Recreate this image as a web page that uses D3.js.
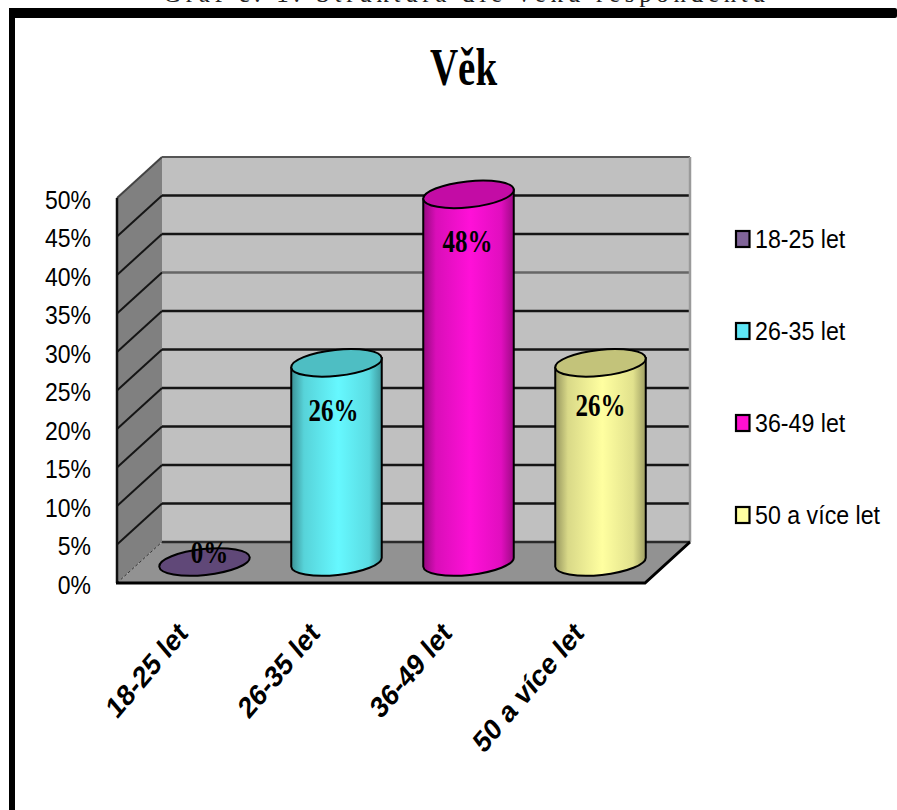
<!DOCTYPE html>
<html lang="cs">
<head>
<meta charset="utf-8">
<title>Věk</title>
<script src="https://cdn.jsdelivr.net/npm/d3@7/dist/d3.min.js"></script>
<style>
  html, body { margin: 0; padding: 0; background: #fff; }
  svg { display: block; }
  .sans { font-family: "Liberation Sans", Arial, sans-serif; }
  .serif { font-family: "Liberation Serif", "Times New Roman", serif; }
</style>
</head>
<body>
<svg id="chart" width="897" height="810"></svg>
<script>
// Chart data
const categories = ["18-25 let", "26-35 let", "36-49 let", "50 a více let"];
const shares = [0, 26, 48, 26];
const seriesColors = ["#7d6296", "#66f8ff", "#ff10d8", "#ffffa0"];
const legendColors = ["#806498", "#5ee6f6", "#ff10d0", "#ffffa0"];
const tickValues = [0, 5, 10, 15, 20, 25, 30, 35, 40, 45, 50];
const heading = "Věk";
const caption = "Graf č. 1: Struktura dle věku respondentů";

const svg = d3.select("#chart");
const defs = svg.append("defs");

// Box projection: front plane of the plot and the depth offset to the back wall
const frontLeft = 117, frontRight = 645, frontBase = 583, frontTop = 198;
const depthX = 45, depthY = -41;

const x = d3.scaleBand().domain(categories).range([frontLeft, frontRight]);
const y = d3.scaleLinear().domain([0, 50]).range([frontBase, frontTop]);
// Cylinders stand half way into the box
const barY = d3.scaleLinear().domain([0, 50]).range([562, 179]);
const barCenter = c => x(c) + x.bandwidth() / 2 + 21.5;

// Page frame and the clipped caption above it
svg.append("text").attr("class", "serif")
  .attr("x", 163).attr("y", 1.5)
  .attr("textLength", 602).attr("lengthAdjust", "spacing")
  .attr("font-size", 25).attr("fill", "#222")
  .text(caption);
svg.append("rect").attr("x", 9).attr("y", 8).attr("width", 888).attr("height", 10).attr("rx", 2).attr("fill", "#000");
svg.append("rect").attr("x", 9).attr("y", 8).attr("width", 6).attr("height", 802).attr("fill", "#000");

// Title
svg.append("text").attr("class", "serif")
  .attr("transform", "translate(463.5,85) scale(1,1.36)")
  .attr("text-anchor", "middle").attr("font-size", 39).attr("font-weight", "bold")
  .text(heading);

// Box walls
const poly = pts => d3.line()(pts) + "Z";
const walls = svg.append("g");
walls.append("path") // back wall
  .attr("d", poly([[frontLeft + depthX, y(50) + depthY], [frontRight + depthX, y(50) + depthY],
                   [frontRight + depthX, frontBase + depthY], [frontLeft + depthX, frontBase + depthY]]))
  .attr("fill", "#c0c0c0");
walls.append("path") // left wall
  .attr("d", poly([[frontLeft, y(50)], [frontLeft + depthX, y(50) + depthY],
                   [frontLeft + depthX, frontBase + depthY], [frontLeft, frontBase]]))
  .attr("fill", "#808080");
walls.append("path") // floor
  .attr("d", poly([[frontLeft, frontBase], [frontLeft + depthX, frontBase + depthY],
                   [frontRight + depthX, frontBase + depthY], [frontRight, frontBase]]))
  .attr("fill", "#929292");

// Gridlines wrap from the left wall onto the back wall
const gridValues = tickValues.filter(v => v > 0);
walls.append("g").selectAll("path").data(gridValues).join("path")
  .attr("d", v => d3.line()([[frontLeft, y(v)], [frontLeft + depthX, y(v) + depthY]]))
  .attr("fill", "none")
  .attr("stroke", v => v === 50 ? "#444" : "#151515")
  .attr("stroke-width", 2);
walls.append("g").selectAll("path").data(gridValues).join("path")
  .attr("d", v => d3.line()([[frontLeft + depthX, y(v) + depthY], [frontRight + depthX, y(v) + depthY]]))
  .attr("fill", "none")
  .attr("stroke", v => v === 35 ? "#666" : v === 50 ? "#555" : "#151515")
  .attr("stroke-width", v => v === 50 ? 2 : 2.6);

// Box edges
walls.append("line").attr("x1", frontRight + depthX).attr("x2", frontRight + depthX)
  .attr("y1", y(50) + depthY).attr("y2", frontBase + depthY)
  .attr("stroke", "#9a9a9a").attr("stroke-width", 2.5);
walls.append("line").attr("x1", frontLeft + depthX).attr("x2", frontRight + depthX)
  .attr("y1", frontBase + depthY).attr("y2", frontBase + depthY)
  .attr("stroke", "#2a2a2a").attr("stroke-width", 2.5);
walls.append("line").attr("x1", frontLeft).attr("x2", frontLeft + depthX)
  .attr("y1", frontBase).attr("y2", frontBase + depthY)
  .attr("stroke", "#333").attr("stroke-width", 1).attr("stroke-dasharray", "3 2");
walls.append("line").attr("x1", frontLeft).attr("x2", frontLeft)
  .attr("y1", y(50)).attr("y2", frontBase)
  .attr("stroke", "#111").attr("stroke-width", 2.5);
walls.append("path")
  .attr("d", d3.line()([[frontLeft - 1, frontBase], [frontRight, frontBase], [frontRight + depthX, frontBase + depthY]]))
  .attr("fill", "none").attr("stroke", "#000").attr("stroke-width", 3);

// Value axis
const yAxis = svg.append("g").attr("class", "sans")
  .attr("transform", "translate(100,0)")
  .call(d3.axisLeft(y).tickValues(tickValues).tickSize(0).tickPadding(9).tickFormat(d => d + "%"));
yAxis.select(".domain").remove();
yAxis.selectAll("text")
  .attr("dy", null).attr("y", null)
  .attr("transform", "translate(0,10) scale(1,1.15)")
  .attr("font-size", 23).attr("fill", "#000").attr("font-family", "Liberation Sans");

// Category axis, rotated labels stretched a little along the vertical
const xAxis = svg.append("g").attr("class", "sans")
  .attr("transform", `translate(0,${frontBase})`)
  .call(d3.axisBottom(x).tickSize(0).tickPadding(0));
xAxis.select(".domain").remove();
xAxis.selectAll("text")
  .attr("dy", null).attr("y", null).attr("x", null)
  .attr("text-anchor", "end")
  .attr("transform", "translate(6,52) scale(1,1.18) rotate(-45)")
  .attr("font-size", 25.5).attr("font-weight", "bold").attr("fill", "#000").attr("font-family", "Liberation Sans");

// Cylinders
const rx = 45.5, ry = 13, tilt = -6;
const endX = rx * Math.cos(tilt * Math.PI / 180);
const endY = rx * Math.sin(-tilt * Math.PI / 180);

categories.forEach((c, i) => {
  const base = d3.color(seriesColors[i]);
  const stops = [[0, base.darker(1.5)], [0.14, base.darker(0.45)], [0.52, base],
                 [0.86, base.darker(0.35)], [1, base.darker(1.35)]];
  defs.append("linearGradient").attr("id", "body" + i)
    .selectAll("stop").data(stops).join("stop")
    .attr("offset", d => d[0]).attr("stop-color", d => d[1].formatHex());
});

const bars = svg.append("g").selectAll("g").data(categories).join("g")
  .attr("transform", c => `translate(${barCenter(c)},0)`);

bars.filter((c, i) => shares[i] > 0).append("path")
  .attr("d", c => {
    const idx = categories.indexOf(c);
    const top = barY(shares[idx]), bottom = barY(0);
    return `M${-endX},${top + endY}L${-endX},${bottom + endY}` +
           `A${rx},${ry} ${tilt} 0 0 ${endX},${bottom - endY}` +
           `L${endX},${top - endY}Z`;
  })
  .attr("fill", c => `url(#body${categories.indexOf(c)})`)
  .attr("stroke", "#000").attr("stroke-width", 2);

bars.append("ellipse")
  .attr("rx", rx).attr("ry", ry)
  .attr("transform", c => `translate(0,${barY(shares[categories.indexOf(c)])}) rotate(${tilt})`)
  .attr("fill", c => {
    const v = shares[categories.indexOf(c)];
    return v > 0 ? d3.color(seriesColors[categories.indexOf(c)]).darker(0.75).formatHex() : "#604878";
  })
  .attr("stroke", "#000").attr("stroke-width", 2);

// Value labels sit inside each cylinder, below its lid
const labelDrop = [1, 58, 58, 53];
const labelNudge = [5, -3, -1, 0];
svg.append("g").selectAll("text").data(categories).join("text")
  .attr("class", "serif")
  .attr("transform", (c, i) => `translate(${barCenter(c) + labelNudge[i]},${barY(shares[i]) + labelDrop[i]}) scale(1,1.3)`)
  .attr("text-anchor", "middle").attr("font-size", 25).attr("font-weight", "bold")
  .text((c, i) => d3.format(".0f")(shares[i]) + "%");

// Legend
const legendY = d3.scalePoint().domain(categories).range([239, 515]);
const legend = svg.append("g").selectAll("g").data(categories).join("g")
  .attr("transform", c => `translate(735,${legendY(c)})`);
legend.append("rect")
  .attr("x", 1).attr("y", -8).attr("width", 13.5).attr("height", 16)
  .attr("fill", (c, i) => legendColors[i])
  .attr("stroke", "#000").attr("stroke-width", 2.2);
legend.append("text").attr("class", "sans")
  .attr("transform", "translate(20,9) scale(1,1.12)")
  .attr("font-size", 23.2)
  .text(c => c);
</script>
</body>
</html>
